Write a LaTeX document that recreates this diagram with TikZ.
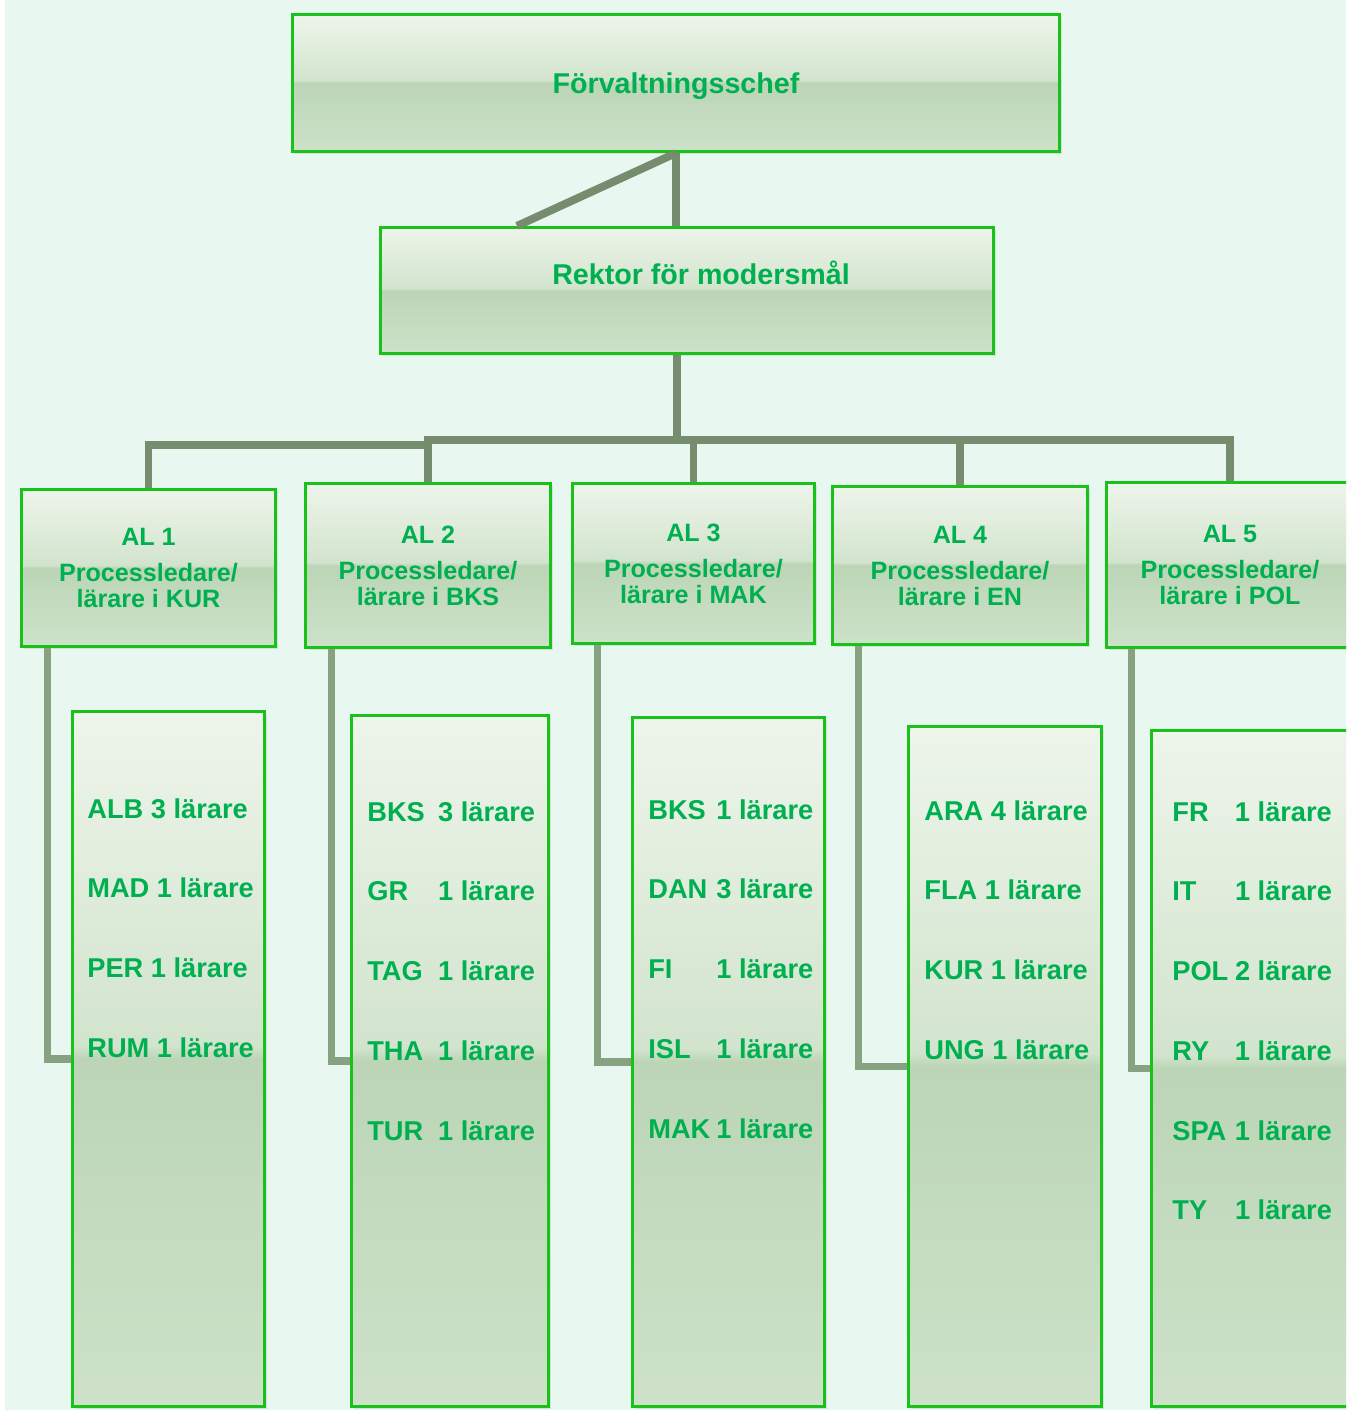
\documentclass[tikz,border=0pt]{standalone}
\usepackage{fontspec}
\setmainfont{Liberation Sans}
\usetikzlibrary{calc,shadows}

\definecolor{bgmint}{HTML}{E8F7F0}
\definecolor{txtgreen}{HTML}{00B050}
\definecolor{boxgreen}{HTML}{19C219}
\definecolor{linegray}{HTML}{758C6F}
\definecolor{elbowgray}{HTML}{87A281}
\definecolor{glA}{HTML}{EEF5EB}
\definecolor{glB}{HTML}{D2E4CD}
\definecolor{glC}{HTML}{BCD5B6}
\definecolor{glD}{HTML}{CDE2C9}

\pgfdeclareverticalshading{glossy}{100bp}{color(0bp)=(glD); color(25bp)=(glD);
  color(50bp)=(glC); color(51bp)=(glB); color(75bp)=(glA); color(100bp)=(glA)}

\newcommand{\kod}[2][2.6em]{\makebox[#1][l]{#2}}

\tikzset{
  box/.style={rectangle, draw=boxgreen, line width=1.8pt, shade, shading=glossy,
    inner sep=0pt, text=txtgreen,
    drop shadow={opacity=0.18, shadow xshift=1.5pt, shadow yshift=-1.5pt}},
  headbox/.style={box, font=\bfseries\fontsize{16.3pt}{18pt}\selectfont},
  albox/.style={box, align=center, font=\bfseries\fontsize{14.3pt}{14.8pt}\selectfont},
  conn/.style={draw=linegray, line width=4.5pt},
  elbow/.style={draw=elbowgray, line width=4pt},
  langlist/.style={anchor=north west, inner sep=0pt, align=left, text=txtgreen,
    font=\bfseries\fontsize{15.5pt}{45.4pt}\selectfont},
}

\begin{document}
\begin{tikzpicture}[x=0.02cm, y=-0.02cm]
\clip (0,0) rectangle (1346,1410);
\fill[white] (0,0) rectangle (1346,1410);
\fill[bgmint] (5,0) rectangle (1346,1410);

% top of the organisation
\node[headbox, minimum width=15.34cm, minimum height=2.74cm, text depth=0pt] (FC) at (676,83)
{Förvaltningsschef};
\node[headbox, minimum width=12.26cm, minimum height=2.52cm,
  text height=11.7pt, text depth=18pt] (RM) at (687,290.5)
{\hspace*{16pt}Rektor för modersmål};

% area leaders
\node[albox, minimum width=5.08cm, minimum height=3.14cm] (AL1) at (148.5,568)
{AL 1\\[5.7pt]Processledare/\\lärare i KUR};
\node[albox, minimum width=4.9cm, minimum height=3.28cm] (AL2) at (428,565.5)
{AL 2\\[5.7pt]Processledare/\\lärare i BKS};
\node[albox, minimum width=4.84cm, minimum height=3.2cm] (AL3) at (693.5,563.5)
{AL 3\\[5.7pt]Processledare/\\lärare i MAK};
\node[albox, minimum width=5.1cm, minimum height=3.16cm] (AL4) at (960,565.5)
{AL 4\\[5.7pt]Processledare/\\lärare i EN};
\node[albox, minimum width=4.94cm, minimum height=3.3cm] (AL5) at (1230,565)
{AL 5\\[5.7pt]Processledare/\\lärare i POL};

% language boxes
\node[box, minimum width=3.84cm, minimum height=13.9cm] (LA1) at (168.5,1059) {};
\node[box, minimum width=3.94cm, minimum height=13.82cm] (LA2) at (450,1061) {};
\node[box, minimum width=3.84cm, minimum height=13.78cm] (LA3) at (728.5,1062) {};
\node[box, minimum width=3.86cm, minimum height=13.6cm] (LA4) at (1005,1066.5) {};
\node[box, minimum width=3.94cm, minimum height=13.52cm] (LA5) at (1250,1068.5) {};

\node[langlist] (LT1) at (87,798)
{ALB 3 lärare\\MAD 1 lärare\\PER 1 lärare\\RUM 1 lärare};
\node[langlist] (LT2) at (367,801)
{\kod{BKS}3 lärare\\\kod{GR}1 lärare\\\kod{TAG}1 lärare\\\kod{THA}1 lärare\\\kod{TUR}1 lärare};
\node[langlist] (LT3) at (648,799)
{\kod[2.5em]{BKS}1 lärare\\\kod[2.5em]{DAN}3 lärare\\\kod[2.5em]{FI}1 lärare\\
\kod[2.5em]{ISL}1 lärare\\\kod[2.5em]{MAK}1 lärare};
\node[langlist] (LT4) at (924,800)
{ARA 4 lärare\\FLA 1 lärare\\KUR 1 lärare\\UNG 1 lärare};
\node[langlist] (LT5) at (1172,801)
{\kod[2.3em]{FR}1 lärare\\\kod[2.3em]{IT}1 lärare\\\kod[2.3em]{POL}2 lärare\\
\kod[2.3em]{RY}1 lärare\\\kod[2.3em]{SPA}1 lärare\\\kod[2.3em]{TY}1 lärare};

% connectors
\coordinate (bus) at (677,440);
\coordinate (busL) at (429,445);

\draw[conn] (FC.south) -- (FC.south |- RM.north);
\draw[conn] (FC.south) -- ($(RM.north west)!0.224!(RM.north east)$);
\draw[conn] (RM.south -| bus) -- (bus);
\draw[conn] (AL2.north) -- (AL2.north |- bus) -- (AL5.north |- bus) -- (AL5.north);
\draw[conn] (AL3.north) -- (AL3.north |- bus);
\draw[conn] (AL4.north) -- (AL4.north |- bus);
\draw[conn] (AL1.north) |- (busL);

\draw[elbow] ($(AL1.south west)+(28,0)$) |- (LA1.west);
\draw[elbow] ($(AL2.south west)+(28,0)$) |- (LA2.west);
\draw[elbow] ($(AL3.south west)+(27,0)$) |- (LA3.west);
\draw[elbow] ($(AL4.south west)+(28,0)$) |- (LA4.west);
\draw[elbow] ($(AL5.south west)+(27,0)$) |- (LA5.west);
\end{tikzpicture}
\end{document}
